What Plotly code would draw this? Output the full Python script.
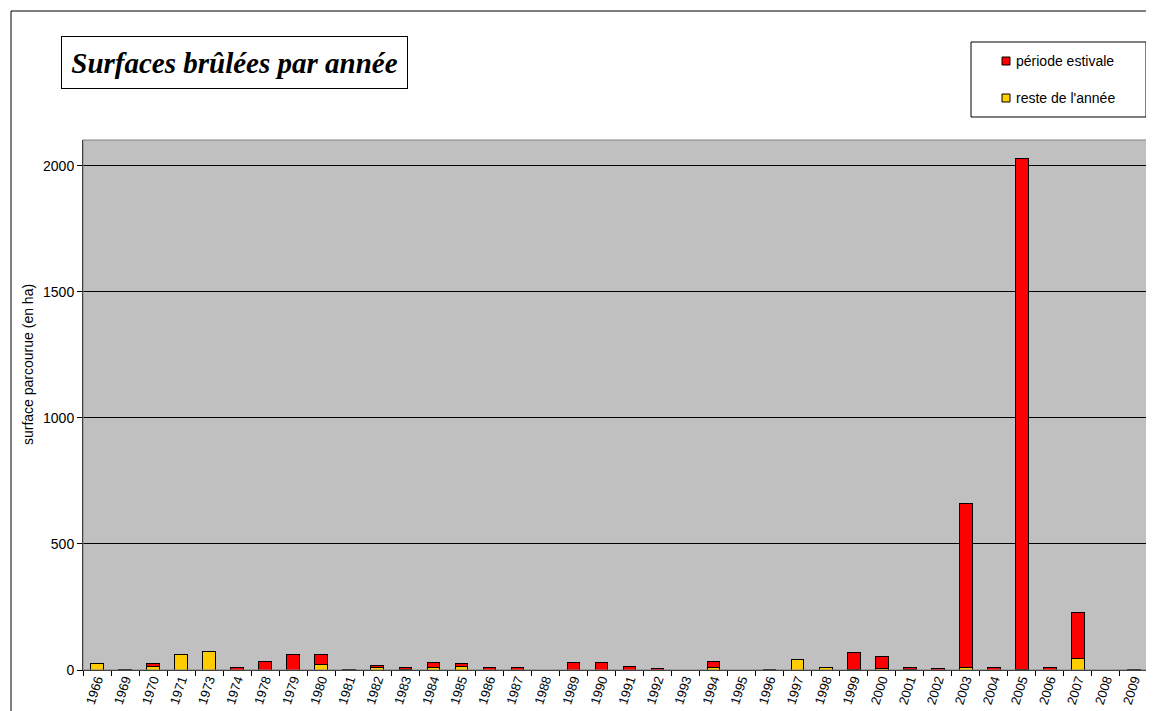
import plotly.graph_objects as go

years = ["1966", "1969", "1970", "1971", "1973", "1974", "1978", "1979", "1980", "1981",
         "1982", "1983", "1984", "1985", "1986", "1987", "1988", "1989", "1990", "1991",
         "1992", "1993", "1994", "1995", "1996", "1997", "1998", "1999", "2000", "2001",
         "2002", "2003", "2004", "2005", "2006", "2007", "2008", "2009"]
estivale = [0, 3, 12, 0, 0, 10, 33, 63, 38, 3,
            11, 9, 20, 13, 10, 10, 0, 28, 28, 15,
            4, 0, 26, 0, 3, 0, 0, 68, 48, 8,
            4, 650, 10, 2025, 10, 182, 0, 3]
reste = [26, 0, 12, 61, 75, 0, 0, 0, 23, 0,
         8, 1, 8, 12, 0, 0, 0, 0, 0, 0,
         0, 0, 8, 0, 0, 42, 10, 2, 7, 2,
         0, 10, 0, 3, 0, 45, 0, 0]
y_ticks = [0, 500, 1000, 1500, 2000]

OFF = 8  # page body margin
W, H = 1154 - OFF, 711 - OFF
L, R, T, B = 83 - OFF, 1148 - OFF, 140 - OFF, 670 - OFF
pw, ph = R - L, B - T


def px(x):
    return (x - OFF - L) / pw


def py(y):
    return (B - (y - OFF)) / ph


RED = "#FF0000"
YEL = "#FFCC00"
FONT = "Liberation Sans, Arial, sans-serif"

fig = go.Figure()
fig.add_trace(go.Bar(x=years, y=[v if v else None for v in reste], name="reste de l'année",
                     marker=dict(color=YEL, line=dict(color="black", width=1))))
fig.add_trace(go.Bar(x=years, y=[v if v else None for v in estivale], name="période estivale",
                     marker=dict(color=RED, line=dict(color="black", width=1))))

fig.update_layout(
    width=W, height=H,
    margin=dict(l=L, r=W - R, t=T, b=H - B, pad=0, autoexpand=False),
    barmode="stack", bargap=0.55,
    plot_bgcolor="#C0C0C0", paper_bgcolor="white",
    showlegend=False,
    font=dict(family=FONT, size=14, color="black"),
)
fig.update_xaxes(type="category", tickson="boundaries", ticks="outside", ticklen=5,
                 tickcolor="black", tickangle=-72, showline=True, linecolor="black",
                 linewidth=1, tickfont=dict(size=13), ticklabelstandoff=-4,
                 showgrid=False, automargin=False)
fig.update_yaxes(range=[0, 2103], tickvals=y_ticks, ticks="outside", ticklen=5,
                 tickcolor="black", showline=True, linecolor="black", linewidth=1,
                 showgrid=True, gridcolor="black", gridwidth=1, zeroline=False,
                 tickfont=dict(size=14), automargin=False)

shapes = []
# plot area border (grey)
shapes.append(dict(type="rect", xref="paper", yref="paper", x0=0, x1=1, y0=0, y1=1,
                   line=dict(color="#808080", width=1), layer="above"))
# outer chart border
shapes.append(dict(type="rect", xref="paper", yref="paper", x0=px(11), x1=px(1160),
                   y0=py(720), y1=py(11), line=dict(color="black", width=1)))
# legend box
shapes.append(dict(type="rect", xref="paper", yref="paper", x0=px(971), x1=px(1146),
                   y0=py(117), y1=py(42), line=dict(color="black", width=1),
                   fillcolor="white"))
# legend swatches
for cy, col in [(61, RED), (98, YEL)]:
    shapes.append(dict(type="rect", xref="paper", yref="paper", x0=px(1002), x1=px(1010),
                       y0=py(cy + 4), y1=py(cy - 4), line=dict(color="black", width=1),
                       fillcolor=col))
fig.update_layout(shapes=shapes)

annotations = [
    dict(text="<b><i>Surfaces brûlées par année</i></b>", xref="paper", yref="paper",
         x=px(61), y=py(36), xanchor="left", yanchor="top", showarrow=False,
         width=343, height=49, align="center", valign="middle",
         bordercolor="black", borderwidth=1, borderpad=1, bgcolor="white",
         font=dict(family="Liberation Serif, Times New Roman, serif", size=29, color="black")),
    dict(text="période estivale", xref="paper", yref="paper", x=px(1014), y=py(61),
         xanchor="left", yanchor="middle", showarrow=False, font=dict(size=14)),
    dict(text="reste de l'année", xref="paper", yref="paper", x=px(1014), y=py(98),
         xanchor="left", yanchor="middle", showarrow=False, font=dict(size=14)),
    dict(text="surface parcourue (en ha)", xref="paper", yref="paper", x=px(28), y=py(365),
         xanchor="center", yanchor="middle", textangle=-90, showarrow=False,
         font=dict(size=14)),
]
fig.update_layout(annotations=annotations)

fig.write_html("out.html")
